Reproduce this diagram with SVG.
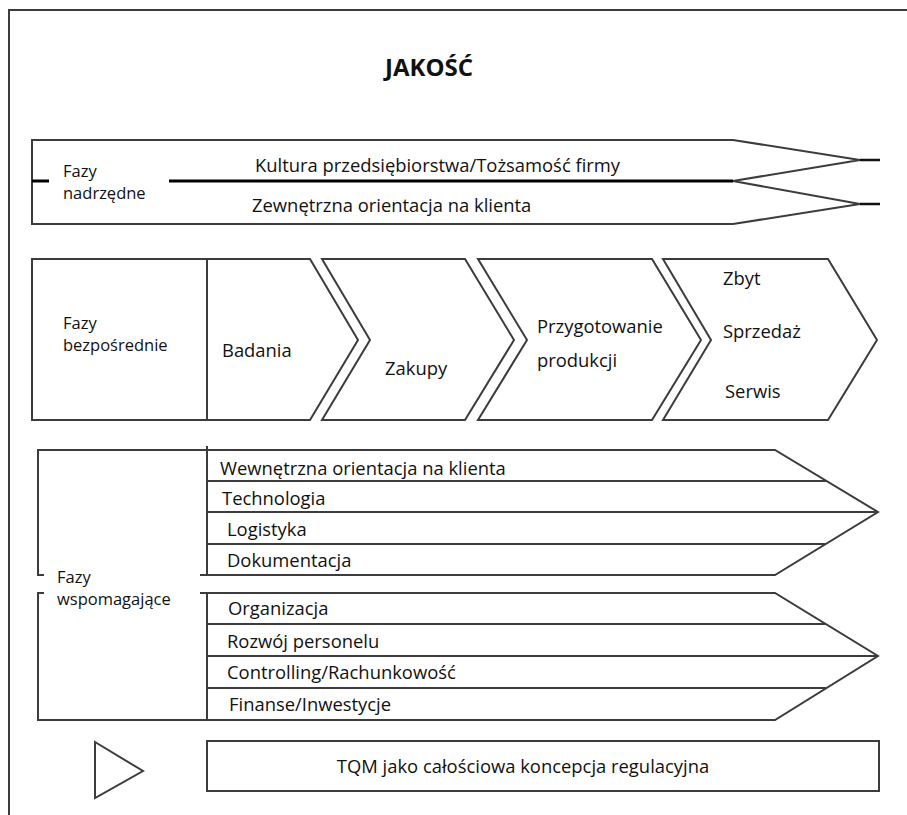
<svg xmlns="http://www.w3.org/2000/svg" width="907" height="815" viewBox="0 0 907 815">
  <style>
    text { font-family: "Open Sans", "Noto Sans", "DejaVu Sans", sans-serif; fill: #111; }
    .title { font-size: 24px; font-weight: bold; }
    .lbl { font-size: 16.5px; }
    .bar { font-size: 18.4px; }
    .ln { fill: none; stroke: #3c3c3c; stroke-width: 2; stroke-linejoin: miter; }
    .shape { fill: #fff; stroke: #3c3c3c; stroke-width: 2; stroke-linejoin: miter; }
    .thick { fill: none; stroke: #000; stroke-width: 3; }
    .stub { fill: none; stroke: #111; stroke-width: 2.5; }
  </style>

  <rect width="907" height="815" fill="#fff"/>

  <!-- outer frame (left and top edges) -->
  <path class="ln" d="M9,815 L9,10 L907,10" stroke-width="2.5"/>

  <text class="title" x="385" y="76">JAKOŚĆ</text>

  <!-- superior phases -->
  <g id="fazy-nadrzedne">
    <path class="ln" d="M32,140 L733,140 L860,160 L733,181 L860,204 L733,224 L32,224 Z"/>
    <path class="thick" d="M169,181 L733,181"/>
    <path class="thick" d="M32,181 L49,181"/>
    <path class="stub" d="M860,160 L880,160 M860,204 L880,204"/>
    <text class="lbl" x="63" y="177">Fazy</text>
    <text class="lbl" x="63" y="199">nadrzędne</text>
    <text class="bar" x="255" y="172">Kultura przedsiębiorstwa/Tożsamość firmy</text>
    <text class="bar" x="252" y="212">Zewnętrzna orientacja na klienta</text>
  </g>

  <!-- direct phases: chevron chain -->
  <g id="fazy-bezposrednie">
    <polygon class="shape" points="32,259 310,259 358,340 310,420 32,420"/>
    <path class="ln" d="M207,259 L207,420"/>
    <text class="lbl" x="63" y="329">Fazy</text>
    <text class="lbl" x="63" y="351">bezpośrednie</text>
  </g>
  <g id="badania">
    <text class="bar" x="222" y="357">Badania</text>
  </g>
  <g id="zakupy">
    <polygon class="shape" points="322,259 465,259 514,340 465,420 322,420 370,340"/>
    <text class="bar" x="385" y="375">Zakupy</text>
  </g>
  <g id="przygotowanie">
    <polygon class="shape" points="478,259 652,259 701,340 652,420 478,420 527,340"/>
    <text class="bar" x="537" y="333">Przygotowanie</text>
    <text class="bar" x="537" y="367">produkcji</text>
  </g>
  <g id="zbyt">
    <polygon class="shape" points="663,259 828,259 877,340 828,420 663,420 711,340"/>
    <text class="bar" x="723" y="285">Zbyt</text>
    <text class="bar" x="723" y="338">Sprzedaż</text>
    <text class="bar" x="725" y="398">Serwis</text>
  </g>

  <!-- supporting phases -->
  <g id="fazy-wspomagajace">
    <text class="lbl" x="57" y="583">Fazy</text>
    <text class="lbl" x="57" y="605">wspomagające</text>
  </g>

  <g id="wspomagajace-1">
    <path class="ln" d="M44,575 L38,575 L38,450 L775,450 L878,512 L775,575 L200,575"/>
    <path class="ln" d="M207,446 L207,576"/>
    <path class="ln" d="M207,481 L826,481 M207,512 L878,512 M207,544 L826,544"/>
    <text class="bar" x="220" y="475">Wewnętrzna orientacja na klienta</text>
    <text class="bar" x="222" y="505">Technologia</text>
    <text class="bar" x="227" y="536">Logistyka</text>
    <text class="bar" x="227" y="567">Dokumentacja</text>
  </g>

  <g id="wspomagajace-2">
    <path class="ln" d="M44,593 L38,593 L38,720 L775,720 L878,656 L775,593 L200,593"/>
    <path class="ln" d="M207,593 L207,721"/>
    <path class="ln" d="M207,624 L826,624 M207,656 L878,656 M207,688 L826,688"/>
    <text class="bar" x="228" y="615">Organizacja</text>
    <text class="bar" x="227" y="648">Rozwój personelu</text>
    <text class="bar" x="227" y="679">Controlling/Rachunkowość</text>
    <text class="bar" x="229" y="711">Finanse/Inwestycje</text>
  </g>

  <!-- TQM -->
  <g id="tqm">
    <polygon class="shape" points="95,742 143,771 95,798"/>
    <rect class="shape" x="207" y="741" width="672" height="50"/>
    <text class="bar" x="523" y="773" text-anchor="middle">TQM jako całościowa koncepcja regulacyjna</text>
  </g>
</svg>
